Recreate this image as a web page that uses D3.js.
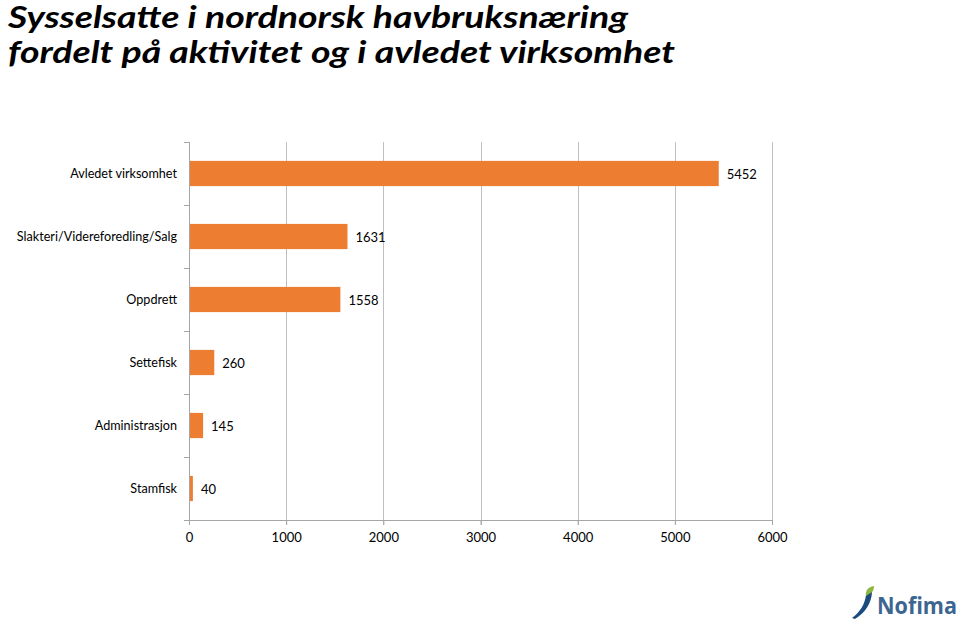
<!DOCTYPE html>
<html><head><meta charset="utf-8">
<script src="https://cdn.jsdelivr.net/npm/d3@7/dist/d3.min.js"></script>
<style>body{margin:0;background:#fff}svg{display:block}</style>
</head><body>
<svg id="c" width="960" height="620"></svg>
<script>
const categories = ["Avledet virksomhet","Slakteri/Videreforedling/Salg","Oppdrett","Settefisk","Administrasjon","Stamfisk"];
const values = [5452,1631,1558,260,145,40];
const xTicks = [0,1000,2000,3000,4000,5000,6000];
const titleLines = ["Sysselsatte i nordnorsk havbruksnæring","fordelt på aktivitet og i avledet virksomhet"];

const svg = d3.select("#c");
const font = "Lato, 'Open Sans', sans-serif";
const pLeft = 189, pRight = 772, pTop = 142, pBottom = 520;
const x = d3.scaleLinear().domain([0,6000]).range([pLeft,pRight]);
const y = d3.scaleBand().domain(categories).range([pTop,pBottom]).paddingInner(0.6).paddingOuter(0.3);

// title
svg.selectAll("text.title").data(titleLines).enter().append("text")
  .attr("x",8).attr("y",(d,i)=>28+i*35)
  .attr("font-family","Lato, 'Open Sans', sans-serif").attr("font-weight","bold").attr("font-style","italic")
  .attr("font-size",31).attr("fill","#000")
  .attr("textLength",(d,i)=>i===0?620:667).attr("lengthAdjust","spacingAndGlyphs")
  .text(d=>d);

// gridlines
svg.append("g").selectAll("line").data(xTicks.slice(1)).enter().append("line")
  .attr("x1",d=>Math.round(x(d))+0.5).attr("x2",d=>Math.round(x(d))+0.5).attr("y1",pTop).attr("y2",pBottom+5)
  .attr("stroke","#bfbfbf").attr("stroke-width",1);

// x axis
const xa = svg.append("g").attr("transform",`translate(0,${pBottom})`)
  .call(d3.axisBottom(x).tickValues(xTicks).tickSize(5).tickPadding(8).tickFormat(d3.format("d")));
xa.select(".domain").attr("stroke","#a6a6a6");
xa.selectAll(".tick line").attr("stroke","#a6a6a6");
xa.selectAll("text").attr("font-family",font).attr("font-size",13).attr("fill","#000");

// y axis line and ticks between categories
svg.append("line").attr("x1",pLeft+0.5).attr("x2",pLeft+0.5).attr("y1",pTop).attr("y2",pBottom)
  .attr("stroke","#a6a6a6");
const bandEdges = d3.range(categories.length+1).map(i=>pTop + i*(pBottom-pTop)/categories.length);
svg.append("g").selectAll("line").data(bandEdges).enter().append("line")
  .attr("x1",pLeft-5).attr("x2",pLeft).attr("y1",d=>Math.round(d)+0.5).attr("y2",d=>Math.round(d)+0.5)
  .attr("stroke","#a6a6a6");

// category labels
svg.append("g").selectAll("text").data(categories).enter().append("text")
  .attr("x",177).attr("y",d=>y(d)+y.bandwidth()/2).attr("dy","0.35em")
  .attr("text-anchor","end").attr("font-family",font).attr("font-size",12.6).attr("fill","#000")
  .text(d=>d);

// bars
svg.append("g").selectAll("rect").data(values).enter().append("rect")
  .attr("x",x(0)+1).attr("y",(d,i)=>y(categories[i]))
  .attr("width",d=>x(d)-x(0)-1).attr("height",y.bandwidth())
  .attr("fill","#ED7D31");

// value labels
svg.append("g").selectAll("text").data(values).enter().append("text")
  .attr("x",d=>x(d)+8).attr("y",(d,i)=>y(categories[i])+y.bandwidth()/2+1).attr("dy","0.35em")
  .attr("font-family",font).attr("font-size",13).attr("fill","#000")
  .text(d=>d);

// logo
const lg = svg.append("g");
lg.append("path").attr("d","M852,618 C860,612 865,604 866,595 L872,591 C872,603 865,613 855,619 Z").attr("fill","#1b4b7d");
lg.append("path").attr("d","M866,596 C865,591 868,587 874,586 C874,589 873,591 872,592 Z").attr("fill","#8cb73f");
lg.append("text").attr("x",877).attr("y",614).attr("font-family","'Open Sans', sans-serif").attr("font-weight","bold")
  .attr("font-size",23).attr("fill","#3c6592").attr("textLength",80).attr("lengthAdjust","spacingAndGlyphs").text("Nofima");
</script>
</body></html>
